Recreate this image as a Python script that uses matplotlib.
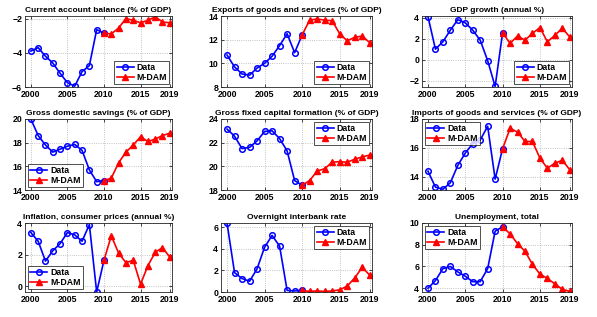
import matplotlib
matplotlib.use("Agg")
import matplotlib.pyplot as plt

plt.rcParams['font.family'] = ['Liberation Sans', 'DejaVu Sans']
plt.rcParams['font.weight'] = 'bold'

years_data = list(range(2000, 2011))
years_model = list(range(2010, 2020))

titles = [
    "Current account balance (% of GDP)",
    "Exports of goods and services (% of GDP)",
    "GDP growth (annual %)",
    "Gross domestic savings (% of GDP)",
    "Gross fixed capital formation (% of GDP)",
    "Imports of goods and services (% of GDP)",
    "Inflation, consumer prices (annual %)",
    "Overnight interbank rate",
    "Unemployment, total",
]

ca_data = [-3.9, -3.7, -4.2, -4.6, -5.2, -5.75, -5.95, -5.1, -4.75, -2.65, -2.85]
ca_model = [-2.85, -2.9, -2.55, -2.0, -2.1, -2.25, -2.1, -1.9, -2.2, -2.25]
ex_data = [10.7, 9.7, 9.1, 9.0, 9.6, 10.0, 10.6, 11.5, 12.5, 10.9, 12.4]
ex_model = [12.4, 13.65, 13.75, 13.65, 13.6, 12.5, 11.9, 12.2, 12.3, 11.75]
gdp_data = [4.1, 1.0, 1.7, 2.8, 3.8, 3.5, 2.8, 1.85, -0.1, -2.55, 2.55]
gdp_model = [2.55, 1.55, 2.25, 1.85, 2.5, 3.05, 1.7, 2.3, 3.0, 2.15]
sav_data = [20.0, 18.6, 17.8, 17.2, 17.45, 17.7, 17.85, 17.35, 15.7, 14.7, 14.8]
sav_model = [14.8, 15.0, 16.3, 17.2, 17.8, 18.5, 18.1, 18.3, 18.6, 18.8]
gfcf_data = [23.15, 22.55, 21.5, 21.6, 22.15, 22.95, 23.0, 22.35, 21.3, 18.8, 18.4]
gfcf_model = [18.4, 18.8, 19.6, 19.8, 20.35, 20.4, 20.35, 20.6, 20.8, 20.95]
im_data = [14.4, 13.3, 13.15, 13.6, 14.8, 15.65, 16.3, 16.55, 17.5, 13.85, 15.95]
im_model = [15.95, 17.35, 17.1, 16.45, 16.45, 15.3, 14.6, 14.95, 15.15, 14.5]
inf_data = [3.4, 2.85, 1.6, 2.25, 2.7, 3.4, 3.25, 2.85, 3.9, -0.35, 1.65]
inf_model = [1.65, 3.2, 2.1, 1.5, 1.65, 0.15, 1.3, 2.15, 2.45, 1.85]
rate_data = [6.4, 1.8, 1.25, 1.0, 2.15, 4.15, 5.25, 4.25, 0.15, 0.1, 0.15]
rate_model = [0.15, 0.05, 0.1, 0.05, 0.1, 0.2, 0.55, 1.3, 2.3, 1.55]
un_data = [4.0, 4.7, 5.8, 6.0, 5.5, 5.1, 4.6, 4.6, 5.8, 9.25, 9.65]
un_model = [9.65, 9.0, 8.1, 7.4, 6.2, 5.3, 4.9, 4.4, 3.9, 3.7]

series_data = [ca_data, ex_data, gdp_data, sav_data, gfcf_data, im_data, inf_data, rate_data, un_data]
series_model = [ca_model, ex_model, gdp_model, sav_model, gfcf_model, im_model, inf_model, rate_model, un_model]

yticks = [[-6, -4, -2], [8, 10, 12, 14], [-2, 0, 2, 4], [14, 16, 18, 20], [18, 20, 22, 24],
          [14, 16, 18], [0, 2, 4], [0, 2, 4, 6], [4, 6, 8, 10]]
ylims = [(-6, -1.85), (8, 14), (-2.6, 4.15), (14, 20), (18, 24), (13.1, 18), (-0.35, 4),
         (0, 6.4), (3.65, 10)]
legend_locs = ['lower right', 'lower right', 'lower right', 'lower left', 'upper right',
               'upper left', 'lower left', 'upper right', 'upper left']
xticks = [2000, 2005, 2010, 2015, 2019]

W, H = 597, 317
fig = plt.figure(figsize=(W / 100, H / 100), dpi=100)
col_lr = [(25, 172), (221, 372), (422, 572)]
row_tb = [(16, 87), (119, 190), (223, 292)]

for i in range(9):
    r, c = divmod(i, 3)
    l, rr = col_lr[c]
    t, b = row_tb[r]
    ax = fig.add_axes([l / W, 1 - b / H, (rr - l) / W, (b - t) / H])
    ax.plot(years_data, series_data[i], color='#0000ff', lw=1.2, marker='o', ms=4,
            mfc='none', mew=1.1, label='Data')
    ax.plot(years_model, series_model[i], color='#ff0000', lw=1.2, marker='^', ms=4.2,
            mfc='#ff0000', mew=1.0, label='M-DAM')
    ax.set_xlim(1999.2, 2019.3)
    ax.set_ylim(*ylims[i])
    ax.set_xticks(xticks)
    ax.set_yticks(yticks[i])
    ax.grid(True, linestyle=':', color='#b0b0b0', lw=0.6)
    ax.tick_params(direction='in', labelsize=6.3, length=2.5, width=0.5, pad=2,
                   top=True, right=True)
    for lab in ax.get_xticklabels() + ax.get_yticklabels():
        lab.set_fontweight('bold')
    for s in ax.spines.values():
        s.set_linewidth(0.6)
        s.set_color('#262626')
    ax.set_title(titles[i], fontsize=6.0, fontweight='bold', pad=3)
    leg = ax.legend(loc=legend_locs[i], fontsize=6.3, frameon=True, fancybox=False,
                    borderpad=0.25, labelspacing=0.15, handlelength=2.0, handletextpad=0.3,
                    borderaxespad=0.3)
    leg.get_frame().set_edgecolor('black')
    leg.get_frame().set_linewidth(0.6)
    for txt in leg.get_texts():
        txt.set_fontweight('bold')

fig.savefig('out.png', dpi=100)
